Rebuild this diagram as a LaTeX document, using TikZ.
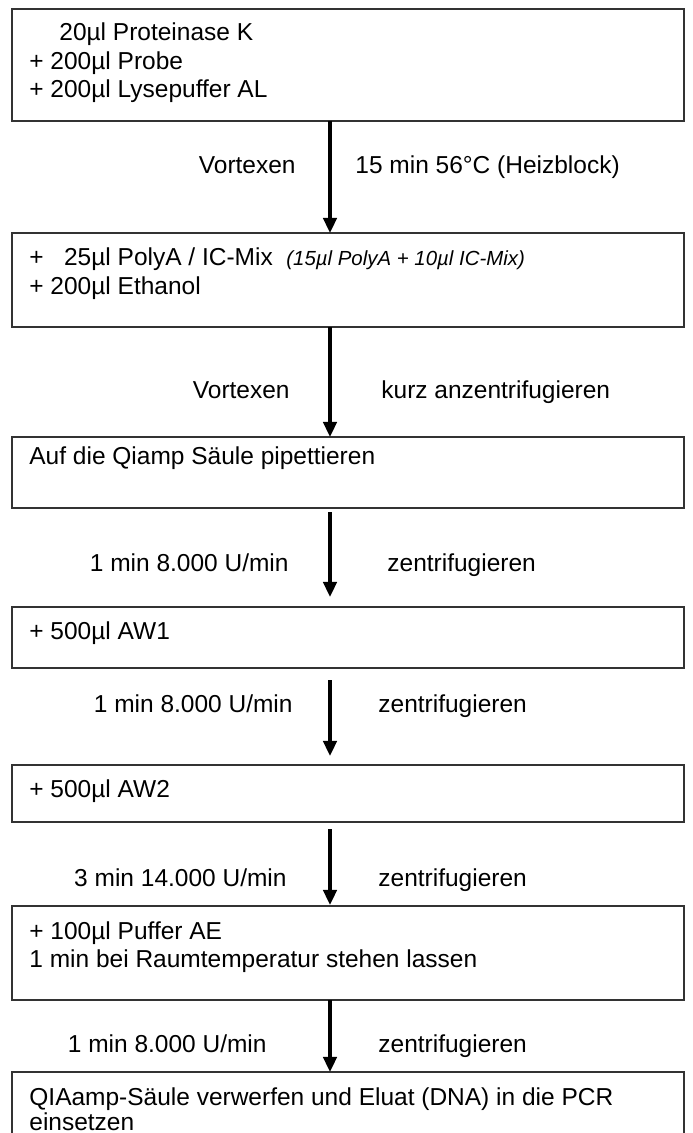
\documentclass[tikz,border=0pt]{standalone}
\usepackage{fontspec}
\setmainfont{Liberation Sans}
\usetikzlibrary{arrows.meta}
\usetikzlibrary{calc}
\newcommand{\pxu}{0.49pt}
\tikzset{every picture/.style={x=\pxu,y=-\pxu},
  box/.style={draw=black!80,line width=1.7*\pxu,minimum width=672*\pxu,inner sep=0,outer sep=0},
  txt/.style={anchor=base west,inner sep=0,font=\fontsize{12}{14}\selectfont},
  lbl/.style={inner sep=0,font=\fontsize{12}{14}\selectfont},
  arr/.style={line width=3.2*\pxu,-{Triangle[width=6.6pt,length=7.4pt]}}}

\begin{document}
\begin{tikzpicture}
\useasboundingbox (0,0) rectangle (692,1133);
\clip (0,0) rectangle (692,1133);

% boxes
\foreach \n/\y/\h in {1/65/112, 2/280/94, 3/472.5/71, 4/637.5/61, 5/793.5/57, 6/953/94, 7/1111/78} {
\node (b\n) at (348,\y) [box,minimum height=\h*\pxu] {};
}

\node (t1a) at (59,41) [txt] {20µl Proteinase K};
\node (t1b) at (29,69.5) [txt] {+ 200µl Probe};
\node (t1c) at (29,98) [txt] {+ 200µl Lysepuffer AL};
\node (t2a) at (29,266) [txt] {+~~~25µl PolyA / IC-Mix~~{\fontsize{10}{12}\selectfont\itshape (15µl PolyA + 10µl IC-Mix)}};
\node (t2b) at (29,295) [txt] {+ 200µl Ethanol};
\node (t3) at (29,464) [txt] {Auf die Qiamp Säule pipettieren};
\node (t4) at (29,639) [txt] {+ 500µl AW1};
\node (t5) at (29,797) [txt] {+ 500µl AW2};
\node (t6a) at (29,939) [txt] {+ 100µl Puffer AE};
\node (t6b) at (29,967) [txt] {1 min bei Raumtemperatur stehen lassen};
\node (t7a) at (29,1105) [txt] {QIAamp-Säule verwerfen und Eluat (DNA) in die PCR};
\node (t7b) at (29,1130) [txt] {einsetzen};

% arrows
\coordinate (ax) at (330,0);
\foreach \a/\b/\s/\e in {1/2/0/0, 2/3/0/0, 3/4/4/10, 4/5/12/9, 5/6/7/1, 6/7/0/0} {
\draw [arr,shorten <=\s*\pxu,shorten >=\e*\pxu] (b\a.south -| ax) -- (b\b.north -| ax);
}

% labels
\node (l1) at (296,174) [lbl,anchor=base east] {Vortexen};
\node (r1) at (355,174) [lbl,anchor=base west] {15 min 56°C (Heizblock)};
\node (l2) at (290,398) [lbl,anchor=base east] {Vortexen};
\node (r2) at (381,398) [lbl,anchor=base west] {kurz anzentrifugieren};
\node (l3) at (289,571) [lbl,anchor=base east] {1 min 8.000 U/min};
\node (r3) at (387,571) [lbl,anchor=base west] {zentrifugieren};
\node (l4) at (293,712) [lbl,anchor=base east] {1 min 8.000 U/min};
\node (r4) at (378,712) [lbl,anchor=base west] {zentrifugieren};
\node (l5) at (287,886) [lbl,anchor=base east] {3 min 14.000 U/min};
\node (r5) at (378,886) [lbl,anchor=base west] {zentrifugieren};
\node (l6) at (267,1052) [lbl,anchor=base east] {1 min 8.000 U/min};
\node (r6) at (378,1052) [lbl,anchor=base west] {zentrifugieren};

\end{tikzpicture}
\end{document}
